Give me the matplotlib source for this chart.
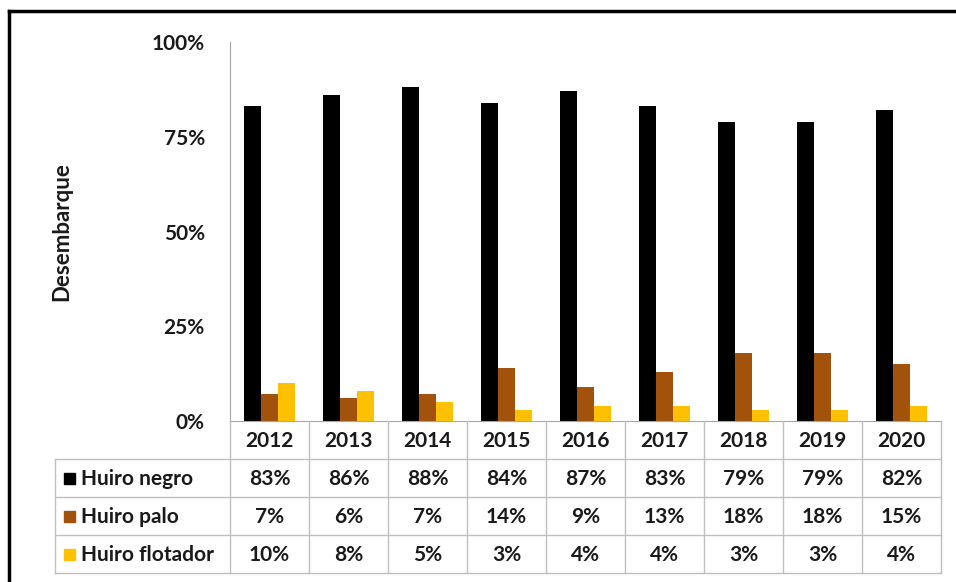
import matplotlib
matplotlib.use("Agg")
import matplotlib.pyplot as plt
from matplotlib.lines import Line2D
from matplotlib.patches import Rectangle

years = ["2012", "2013", "2014", "2015", "2016", "2017", "2018", "2019", "2020"]
series_names = ["Huiro negro", "Huiro palo", "Huiro flotador"]
huiro_negro = [83, 86, 88, 84, 87, 83, 79, 79, 82]
huiro_palo = [7, 6, 7, 14, 9, 13, 18, 18, 15]
huiro_flotador = [10, 8, 5, 3, 4, 4, 3, 3, 4]
yticks = [0, 25, 50, 75, 100]
ytick_labels = ["0%", "25%", "50%", "75%", "100%"]

colors = ["#000000", "#A3520C", "#FFC000"]
series = [huiro_negro, huiro_palo, huiro_flotador]

plt.rcParams['font.family'] = ['Lato', 'DejaVu Sans']
TXT = "#1A1A1A"
FS = 15

W, H = 956, 582
fig = plt.figure(figsize=(W / 100, H / 100), dpi=100)
fig.patch.set_facecolor("white")

# plot axes (pixel geometry)
L, R, T, B = 230, 941, 42, 421
ax = fig.add_axes([L / W, (H - B) / H, (R - L) / W, (B - T) / H])
n = len(years)
bw = 0.215
xs = list(range(n))
for i, (vals, c) in enumerate(zip(series, colors)):
    ax.bar([x + (i - 1) * bw for x in xs], vals, width=bw, color=c, zorder=2)
ax.set_xlim(-0.5, n - 0.5)
ax.set_ylim(0, 100)
ax.set_yticks(yticks)
ax.set_yticklabels(ytick_labels, fontsize=FS, fontweight="bold", color=TXT)
ax.tick_params(axis="y", length=0, pad=18)
ax.set_xticks([])
for s in ["top", "right"]:
    ax.spines[s].set_visible(False)
ax.spines["left"].set_color("#A6A6A6")
ax.spines["bottom"].set_color("#A6A6A6")
ax.set_ylabel("Desembarque", fontsize=FS + 1, fontweight="bold", color=TXT, labelpad=0)
ax.yaxis.set_label_coords(-(L - 72) / (R - L), 0.5)

ov2 = fig.add_axes([0, 0, 1, 1])
ov2.set_xlim(0, W)
ov2.set_ylim(H, 0)
ov2.axis("off")
ov2.patch.set_alpha(0)

# outer frame (left and top)
ov2.add_line(Line2D([9, 9], [11, H], color="black", lw=2.5))
ov2.add_line(Line2D([9, W], [11, 11], color="black", lw=2.5))

gc = "#BFBFBF"
colw = (R - L) / n
rows_y = [421, 459, 497, 535, 573]
tab_left = 55
for y in rows_y[1:]:
    ov2.add_line(Line2D([tab_left, R], [y, y], color=gc, lw=1))
for j in range(n + 1):
    x = L + j * colw
    ov2.add_line(Line2D([x, x], [rows_y[0], rows_y[-1]], color=gc, lw=1))
ov2.add_line(Line2D([tab_left, tab_left], [rows_y[1], rows_y[-1]], color=gc, lw=1))

for j, yr in enumerate(years):
    ov2.text(L + (j + 0.5) * colw, (rows_y[0] + rows_y[1]) / 2 + 1, yr,
             ha="center", va="center", fontsize=FS, fontweight="bold", color=TXT)
for r, (name, vals, c) in enumerate(zip(series_names, series, colors)):
    yc = (rows_y[r + 1] + rows_y[r + 2]) / 2
    ov2.add_patch(Rectangle((64, yc - 5), 11, 11, color=c))
    ov2.text(81, yc + 1, name, ha="left", va="center", fontsize=FS,
             fontweight="bold", color=TXT)
    for j, v in enumerate(vals):
        ov2.text(L + (j + 0.5) * colw, yc + 1, f"{v}%", ha="center", va="center",
                 fontsize=FS, fontweight="bold", color=TXT)

fig.savefig("out.png", dpi=100)
